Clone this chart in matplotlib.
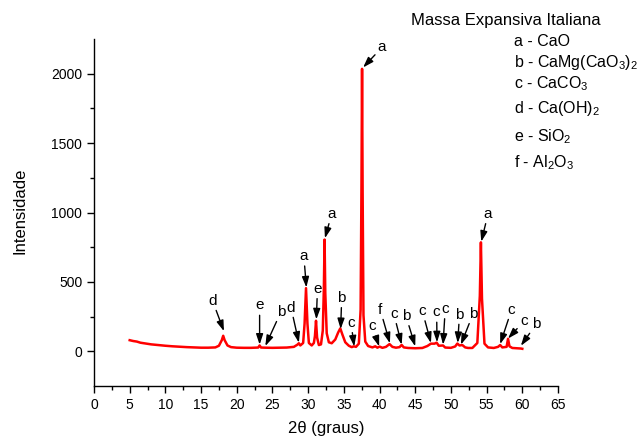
import matplotlib
matplotlib.use("Agg")
import matplotlib.pyplot as plt

plt.rcParams['font.family'] = ['Liberation Sans', 'DejaVu Sans']
plt.rcParams['mathtext.fontset'] = 'custom'
plt.rcParams['mathtext.rm'] = 'Liberation Sans'
plt.rcParams['mathtext.it'] = 'Liberation Sans'
plt.rcParams['mathtext.default'] = 'regular'

# ---- data ----
two_theta = [5.0, 5.5, 6.0, 6.5, 7.0, 8.0, 9.0, 10.0, 11.0, 12.0, 13.0, 14.0, 15.0, 16.0,
             17.0, 17.5, 17.9, 18.1, 18.3, 18.7, 19.2, 20.0, 21.0, 22.0, 23.0, 23.2, 23.4,
             24.0, 25.0, 26.0, 27.0, 28.0, 28.5, 28.7, 28.9, 29.3, 29.5, 29.7, 29.9, 30.1,
             30.5, 30.8, 30.95, 31.1, 31.25, 31.5, 31.8, 32.05, 32.2, 32.3, 32.4, 32.6, 32.9,
             33.3, 33.8, 34.2, 34.5, 34.8, 35.2, 35.7, 36.1, 36.4, 36.7, 37.1, 37.35, 37.47,
             37.55, 37.63, 37.75, 38.0, 38.4, 39.0, 39.4, 39.7, 40.0, 40.4, 40.9, 41.4, 41.8,
             42.3, 42.8, 43.1, 43.4, 44.0, 45.0, 46.0, 46.7, 47.2, 47.7, 48.0, 48.3, 48.9,
             49.2, 50.0, 50.6, 50.9, 51.2, 51.6, 52.0, 52.4, 53.0, 53.7, 54.05, 54.2, 54.35,
             54.7, 55.2, 56.0, 56.6, 56.9, 57.2, 57.8, 58.0, 58.2, 58.6, 59.2, 59.8, 60.0]
intensity = [80, 74, 70, 62, 58, 50, 45, 40, 36, 33, 30, 28, 26, 26,
             28, 40, 80, 112, 80, 42, 30, 26, 25, 25, 27, 42, 27,
             26, 25, 26, 27, 32, 48, 58, 42, 60, 200, 455, 200, 60,
             42, 60, 110, 220, 100, 45, 50, 150, 450, 805, 420, 130, 65,
             58, 85, 135, 165, 120, 65, 40, 30, 36, 32, 55, 300, 1200,
             2035, 1150, 260, 70, 38, 28, 36, 26, 34, 25, 32, 52, 32,
             26, 30, 46, 28, 24, 22, 24, 38, 55, 55, 62, 40, 42,
             27, 25, 35, 56, 42, 45, 28, 24, 24, 60, 400, 785, 380,
             55, 28, 24, 32, 45, 28, 32, 90, 36, 24, 22, 20, 18]

# annotations: label, peak position (x, y)
ann_labels = ['a', 'd', 'e', 'b', 'd', 'a', 'e', 'a', 'b', 'c', 'c', 'f', 'c', 'b',
              'c', 'c', 'c', 'b', 'b', 'a', 'c', 'c', 'b']
ann_peak_x = [37.7, 18.2, 23.2, 24.0, 28.7, 29.75, 31.15, 32.35, 34.55, 36.45, 39.95, 41.45,
              43.1, 45.0, 47.2, 48.05, 48.9, 50.95, 51.4, 54.25, 56.9, 58.0, 59.8]
ann_peak_y = [2045, 145, 48, 38, 62, 460, 230, 815, 160, 35, 35, 58, 48, 36,
              60, 65, 48, 60, 48, 790, 52, 92, 40]
# label text positions
ann_text_x = [40.35, 16.6, 23.2, 26.2, 27.6, 29.4, 31.3, 33.3, 34.7, 36.0, 39.0, 40.1,
              42.0, 43.7, 46.0, 48.0, 49.2, 51.2, 53.1, 55.2, 58.5, 60.2, 62.0]
ann_text_y = [2190, 365, 330, 285, 315, 685, 450, 990, 385, 205, 180, 300,
              270, 255, 290, 280, 305, 265, 270, 990, 300, 215, 200]

legend_title = 'Massa Expansiva Italiana'
legend_lines = ['a - CaO', 'b - CaMg(CaO$_3$)$_2$', 'c - CaCO$_3$', 'd - Ca(OH)$_2$',
                'e - SiO$_2$', 'f - Al$_2$O$_3$']

# ---- figure ----
fig = plt.figure(figsize=(6.44, 4.37), dpi=100)
ax = fig.add_axes([94 / 644, 1 - 386 / 437, 464 / 644, 347 / 437])

ax.plot(two_theta, intensity, color='#ff0000', lw=1.8)

for lab, px, py, tx, ty in zip(ann_labels, ann_peak_x, ann_peak_y, ann_text_x, ann_text_y):
    ax.annotate(lab, xy=(px, py), xytext=(tx, ty), ha='center', va='center', fontsize=11,
                arrowprops=dict(arrowstyle='-|>,head_length=0.45,head_width=0.15',
                                color='black', lw=1.0,
                                mutation_scale=14, shrinkA=0, shrinkB=0))

ax.set_xlim(0, 65)
ax.set_ylim(-250, 2250)
ax.set_xticks(range(0, 66, 5))
ax.set_xticks([x + 2.5 for x in range(0, 65, 5)], minor=True)
ax.set_yticks([0, 500, 1000, 1500, 2000])
ax.set_yticks([250, 750, 1250, 1750], minor=True)
ax.tick_params(which='major', direction='out', length=5, width=1, labelsize=10)
ax.tick_params(which='minor', direction='out', length=3, width=1)
for s in ['top', 'right']:
    ax.spines[s].set_visible(False)
for s in ['left', 'bottom']:
    ax.spines[s].set_linewidth(1.0)

fig.text(326 / 644, 1 - 428 / 437, '2θ (graus)', ha='center', va='center', fontsize=12)
fig.text(20 / 644, 1 - 211 / 437, 'Intensidade', ha='center', va='center', fontsize=12,
         rotation=90)

fig.text(411 / 644, 1 - 20 / 437, legend_title, ha='left', va='center', fontsize=12)
leg_y = [42, 63, 84, 109, 137, 163]
for txt, yy in zip(legend_lines, leg_y):
    fig.text(514 / 644, 1 - yy / 437, txt, ha='left', va='center', fontsize=11.5)

fig.savefig('out.png', dpi=100)
